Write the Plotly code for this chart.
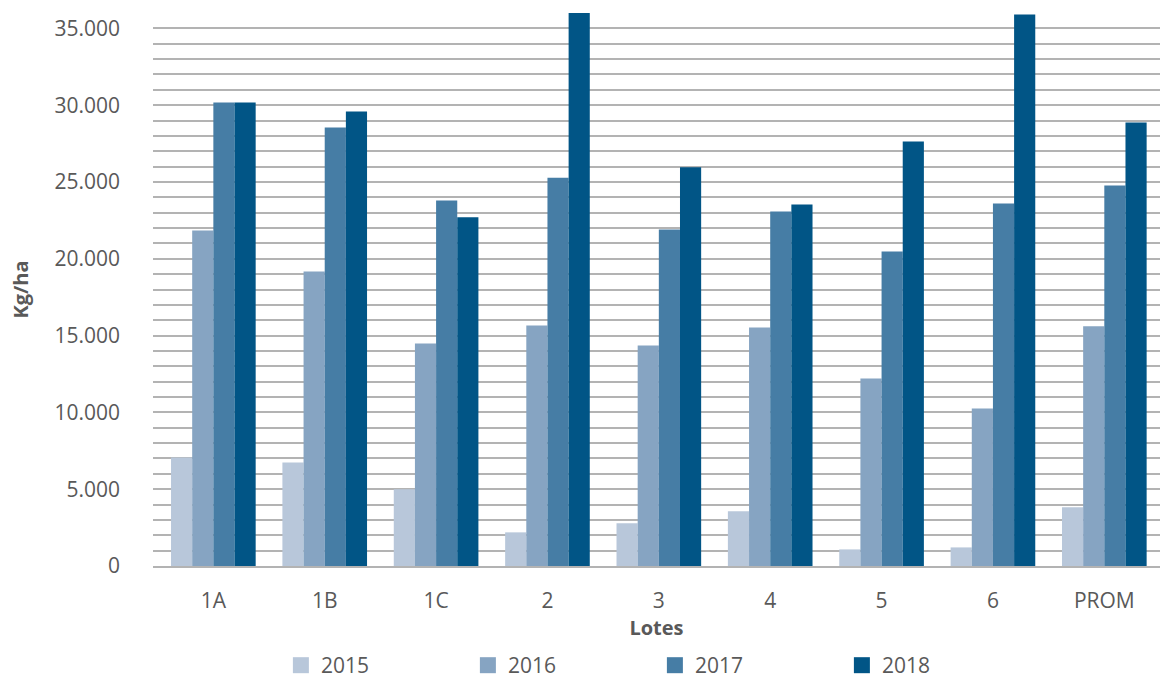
import plotly.graph_objects as go

lotes = ["1A", "1B", "1C", "2", "3", "4", "5", "6", "PROM"]
v2015 = [7070, 6740, 5000, 2190, 2780, 3560, 1080, 1210, 3820]
v2016 = [21840, 19170, 14490, 15660, 14360, 15530, 12210, 10260, 15600]
v2017 = [30170, 28540, 23800, 25280, 21900, 23080, 20470, 23600, 24770]
v2018 = [30170, 29580, 22700, 36000, 25960, 23530, 27640, 35900, 28870]
years = ["2015", "2016", "2017", "2018"]
colors = ["#B8C7DA", "#86A4C2", "#467DA5", "#015586"]
series = [v2015, v2016, v2017, v2018]

FONT = "Open Sans"
GRAY = "#595959"
GRID = "#B3B3B3"

fig = go.Figure()
for name, vals, col in zip(years, series, colors):
    fig.add_trace(go.Bar(name=name, x=lotes, y=vals, legendgroup=name, showlegend=False,
                         marker=dict(color=col, line=dict(width=0))))
# legend swatches (larger squares like the reference)
for name, col in zip(years, colors):
    fig.add_trace(go.Scatter(name=name, x=[lotes[0]], y=[None], mode="markers", legendgroup=name,
                             marker=dict(symbol="square", size=16, color=col), hoverinfo="skip"))

fig.update_layout(
    width=1161, height=677,
    margin=dict(l=153, r=1, t=13, b=111, autoexpand=False),
    paper_bgcolor="white", plot_bgcolor="white",
    separators=",.",
    barmode="group", bargap=0.24, bargroupgap=0,
    font=dict(family=FONT, size=21, color=GRAY),
    showlegend=True,
    legend=dict(
        orientation="h", x=0.127, xanchor="left", y=-0.18, yanchor="middle",
        font=dict(family=FONT, size=21, color=GRAY),
        entrywidth=142, entrywidthmode="pixels",
        bgcolor="rgba(0,0,0,0)", traceorder="normal",
    ),
)
fig.update_yaxes(
    range=[0, 36000], tickvals=[0, 5000, 10000, 15000, 20000, 25000, 30000, 35000],
    tickformat=",d", showgrid=True, gridcolor=GRID, gridwidth=1.5,
    minor=dict(dtick=1000, showgrid=True, gridcolor=GRID, gridwidth=1.5, tick0=0),
    zeroline=False, showline=False, ticks="", ticklabelstandoff=32,
    tickfont=dict(family=FONT, size=21, color=GRAY),
    title=dict(text="<b>Kg/ha</b>", font=dict(family=FONT, size=20, color=GRAY), standoff=20),
)
fig.update_xaxes(
    showline=True, linecolor=GRID, linewidth=1.5, ticks="", showgrid=False,
    ticklabelstandoff=15,
    tickfont=dict(family=FONT, size=21, color=GRAY),
    title=dict(text="<b>Lotes</b>", font=dict(family=FONT, size=20, color=GRAY), standoff=6),
)

fig.write_html("out.html")
